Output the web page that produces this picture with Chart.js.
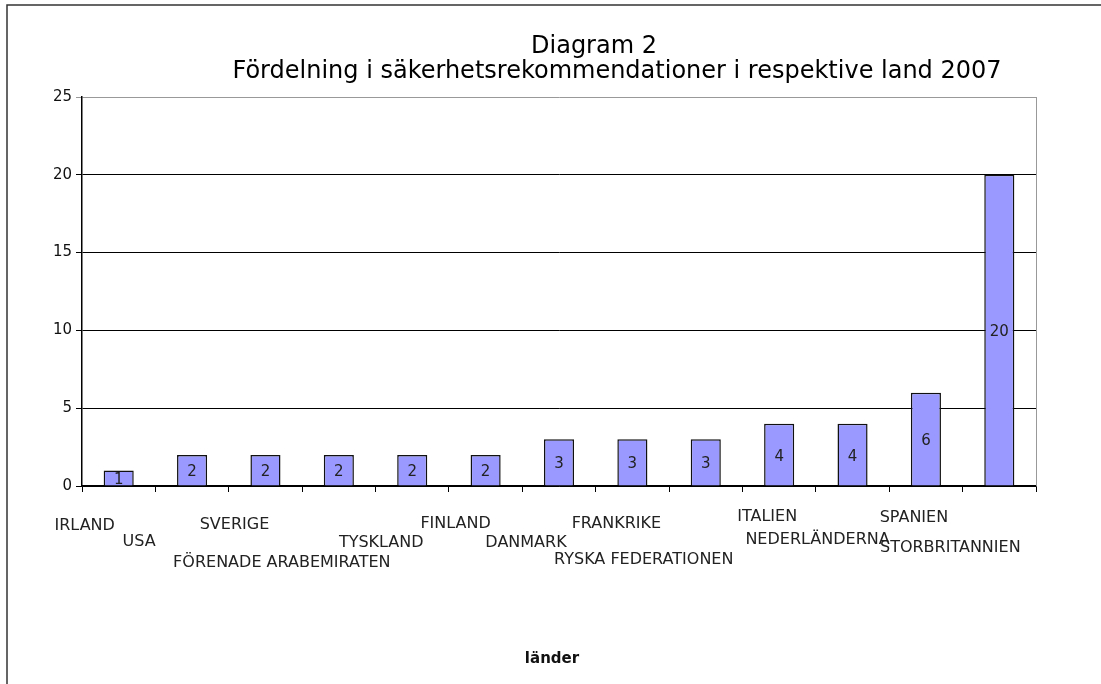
<!DOCTYPE html>
<html>
<head>
<meta charset="utf-8">
<script src="https://cdn.jsdelivr.net/npm/chart.js@4"></script>
<style>
  html, body { margin: 0; padding: 0; background: #fff; }
  #wrap { position: relative; width: 1101px; height: 684px; }
</style>
</head>
<body>
<div id="wrap"><canvas id="chart" width="1101" height="684"></canvas></div>
<script>
// chart data
const countries = ['IRLAND', 'USA', 'SVERIGE', 'FÖRENADE ARABEMIRATEN', 'TYSKLAND', 'FINLAND',
    'DANMARK', 'FRANKRIKE', 'RYSKA FEDERATIONEN', 'ITALIEN', 'NEDERLÄNDERNA', 'SPANIEN', 'STORBRITANNIEN'];
const recommendations = [1, 2, 2, 2, 2, 2, 3, 3, 3, 4, 4, 6, 20];
const yTicks = [0, 5, 10, 15, 20, 25];
const titleLines = ['Diagram 2', 'Fördelning i säkerhetsrekommendationer i respektive land 2007'];
const axisTitle = 'länder';

// staggered label placement (offset from category centre, and row y)
const labelDx = [-34, -53, -31, -57, -31, -30, -33, -16, -62, -12, -35, -12, -49];
const labelY = [526, 542, 525, 563, 543, 524, 543, 524, 560, 517, 540, 518, 548];

const FONT = 'DejaVu Sans, Verdana, sans-serif';

// draws frame, title, bar values, staggered category labels and axis title
const excelBits = {
    id: 'excelBits',
    beforeDraw(chart) {
        const ctx = chart.ctx;
        ctx.save();
        ctx.fillStyle = '#fff';
        ctx.fillRect(0, 0, chart.width, chart.height);
        ctx.strokeStyle = '#333';
        ctx.lineWidth = 1.5;
        ctx.beginPath();
        ctx.moveTo(7, chart.height + 2);
        ctx.lineTo(7, 5);
        ctx.lineTo(chart.width + 2, 5);
        ctx.stroke();
        ctx.restore();
    },
    afterDraw(chart) {
        const ctx = chart.ctx;
        const area = chart.chartArea;
        const xs = chart.scales.x;
        ctx.save();

        // right border of plot area
        ctx.strokeStyle = '#999';
        ctx.lineWidth = 1;
        ctx.beginPath();
        ctx.moveTo(area.right + 0.5, area.top);
        ctx.lineTo(area.right + 0.5, area.bottom);
        ctx.stroke();

        // title
        ctx.fillStyle = '#000';
        ctx.font = '24px ' + FONT;
        ctx.textAlign = 'center';
        ctx.textBaseline = 'alphabetic';
        ctx.fillText(titleLines[0], 594, 53);
        ctx.fillText(titleLines[1], 617, 78);

        // values inside bars
        ctx.font = '15px ' + FONT;
        ctx.textBaseline = 'middle';
        ctx.fillStyle = '#222';
        const meta = chart.getDatasetMeta(0);
        meta.data.forEach((bar, i) => {
            const mid = (bar.y + bar.base) / 2 + 2;
            ctx.fillText(String(recommendations[i]), bar.x, mid);
        });

        // category labels
        ctx.font = '16px ' + FONT;
        countries.forEach((name, i) => {
            ctx.fillText(name, xs.getPixelForValue(i) + labelDx[i], labelY[i]);
        });

        // axis title
        ctx.font = 'bold 15px ' + FONT;
        ctx.fillStyle = '#111';
        ctx.fillText(axisTitle, 552, 659);
        ctx.restore();
    }
};

new Chart(document.getElementById('chart'), {
    type: 'bar',
    data: {
        labels: countries,
        datasets: [{
            data: recommendations,
            backgroundColor: '#9999FF',
            borderColor: '#111',
            borderWidth: 1.5,
            barPercentage: 0.41,
            categoryPercentage: 1
        }]
    },
    options: {
        responsive: false,
        animation: false,
        layout: { padding: { top: 97, right: 65, left: 0, bottom: 0 } },
        plugins: {
            legend: { display: false },
            tooltip: { enabled: false }
        },
        scales: {
            x: {
                afterFit: s => { s.height = 684 - 486; },
                grid: {
                    drawOnChartArea: false,
                    drawTicks: true,
                    tickLength: 6,
                    color: '#000',
                    offset: true
                },
                border: { color: '#000', width: 1.5 },
                ticks: { display: false }
            },
            y: {
                min: 0,
                max: 25,
                afterFit: s => { s.width = 82; },
                afterBuildTicks: s => { s.ticks = yTicks.map(v => ({ value: v })); },
                grid: {
                    color: c => (c.tick && c.tick.value === 25) ? '#999' : '#000',
                    tickLength: 6,
                    lineWidth: 1
                },
                border: { color: '#000', width: 1.5 },
                ticks: {
                    color: '#111',
                    padding: 4,
                    font: { family: FONT, size: 15 }
                }
            }
        }
    },
    plugins: [excelBits]
});
</script>
</body>
</html>
